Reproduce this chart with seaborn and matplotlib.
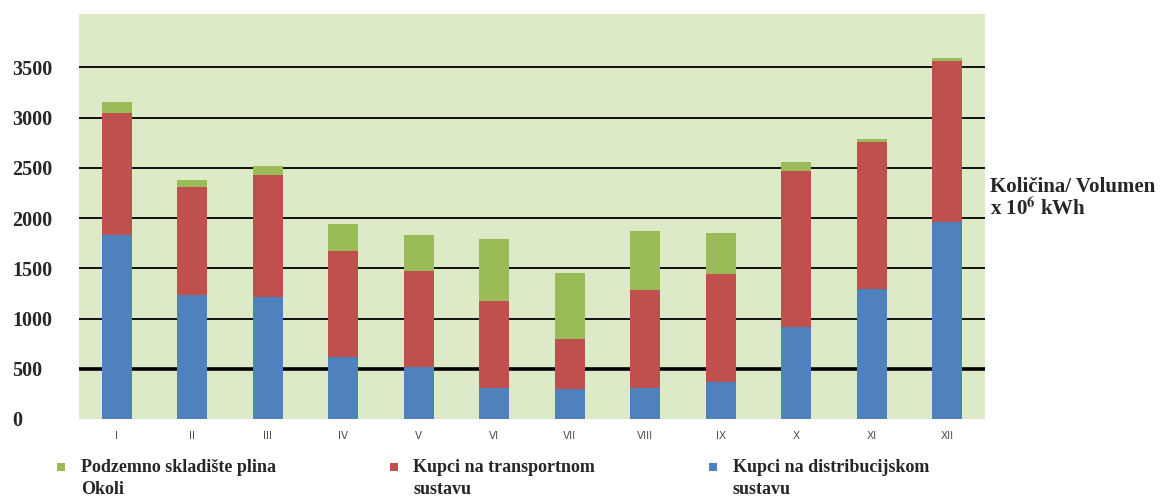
import matplotlib
matplotlib.use("Agg")
import matplotlib.pyplot as plt
from matplotlib.lines import Line2D
from matplotlib.path import Path
import numpy as np
import pandas as pd
import seaborn as sns

# data (10^6 kWh)
months = ["I", "II", "III", "IV", "V", "VI", "VII", "VIII", "IX", "X", "XI", "XII"]
distribucija = [1830, 1230, 1210, 615, 515, 310, 300, 310, 370, 915, 1290, 1960]
transport = [1220, 1075, 1220, 1060, 960, 860, 495, 975, 1075, 1550, 1470, 1605]
skladiste = [100, 75, 85, 270, 355, 625, 655, 590, 405, 95, 27, 30]

labels = ["Podzemno skladište plina\nOkoli",
          "Kupci na transportnom\nsustavu",
          "Kupci na distribucijskom\nsustavu"]
c_green, c_red, c_blue = "#9BBB59", "#C0504D", "#4F81BD"

df = pd.DataFrame({"mjesec": months,
                   "dist": distribucija,
                   "trans": transport,
                   "skl": skladiste})
df["dist_trans"] = df["dist"] + df["trans"]
df["ukupno"] = df["dist_trans"] + df["skl"]

sns.set_style("white")
plt.rcParams["font.family"] = ["Liberation Serif", "DejaVu Serif"]
plt.rcParams["mathtext.fontset"] = "stix"

fig = plt.figure(figsize=(11.64, 5.01), dpi=100)
ax = fig.add_axes([0.0679, 0.1637, 0.7783, 0.8083])
ax.set_facecolor("#DDEAC8")

# stacked bars as layered cumulative sums
sns.barplot(data=df, x="mjesec", y="ukupno", color=c_green, saturation=1,
            width=0.4, linewidth=0, ax=ax, zorder=3)
sns.barplot(data=df, x="mjesec", y="dist_trans", color=c_red, saturation=1,
            width=0.4, linewidth=0, ax=ax, zorder=3)
sns.barplot(data=df, x="mjesec", y="dist", color=c_blue, saturation=1,
            width=0.4, linewidth=0, ax=ax, zorder=3)

ax.set_xlim(-0.5, 11.5)
ax.set_ylim(0, 4030)
yt = np.arange(0, 4000, 500)
ax.set_yticks(yt)
for v in yt[1:]:
    ax.axhline(v, color="black", lw=2.6 if v == 500 else 1.3, zorder=1)

for s in ax.spines.values():
    s.set_visible(False)
ax.set_xlabel("")
ax.set_ylabel("")
ax.tick_params(axis="y", length=0, pad=48, labelsize=14.5)
for t in ax.get_yticklabels():
    t.set_ha("left")
    t.set_fontweight("bold")
ax.tick_params(axis="x", length=0, pad=9, labelsize=7.5, labelcolor="#505050")
for t in ax.get_xticklabels():
    t.set_fontfamily("DejaVu Sans")

# axis title on the right
ax.text(1.005, 0.597, "Količina/ Volumen\nx 10$^{\\mathbf{6}}$ kWh",
        transform=ax.transAxes, ha="left", va="top", fontsize=15,
        fontweight="bold", linespacing=1.1)

# legend squares sit level with the first line of each label
a = 0.524
hw = (1 - a) / 2
top_square = Path([(-hw, a), (hw, a), (hw, 1.0), (-hw, 1.0), (-hw, a)],
                  [Path.MOVETO, Path.LINETO, Path.LINETO, Path.LINETO, Path.CLOSEPOLY])
handles = [Line2D([], [], marker=top_square, ls="", color=c, markersize=22.7,
                  markeredgewidth=0)
           for c in (c_green, c_red, c_blue)]
leg = fig.legend(handles, labels, ncol=3, loc="upper left",
                 bbox_to_anchor=(0.031, 0.116), frameon=False,
                 prop={"weight": "bold", "size": 13}, handlelength=1.0,
                 handletextpad=0.6, columnspacing=6.0, labelspacing=0.2)
for t in leg.get_texts():
    t.set_linespacing(1.4)

fig.savefig("out.png", dpi=100, facecolor="white")
